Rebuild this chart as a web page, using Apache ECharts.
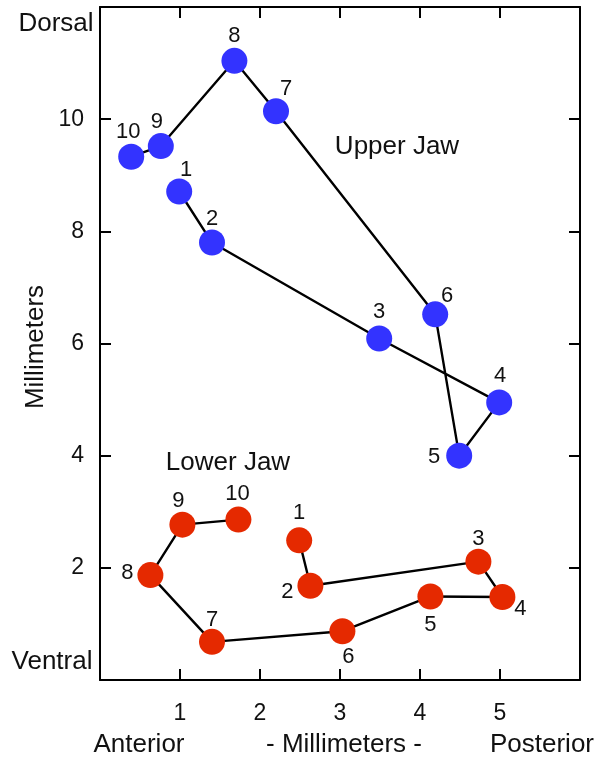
<!DOCTYPE html>
<html>
<head>
    <meta charset="utf-8">
    <title>Jaw movement</title>
    <script src="https://cdn.jsdelivr.net/npm/echarts@6/dist/echarts.min.js"></script>
</head>
<body style="margin:0">
<div id="main" style="width: 602px;height:765px;"></div>
<script type="text/javascript">
    // point numbers, in drawing order
    var pointNames = ['1', '2', '3', '4', '5', '6', '7', '8', '9', '10'];

    // upper jaw (mm)
    var upperX = [0.99, 1.40, 3.49, 4.99, 4.49, 4.19, 2.20, 1.68, 0.76, 0.39];
    var upperY = [8.71, 7.80, 6.09, 4.95, 4.00, 6.52, 10.14, 11.04, 9.52, 9.33];

    // lower jaw (mm)
    var lowerX = [2.49, 2.63, 4.73, 5.03, 4.13, 3.03, 1.40, 0.63, 1.03, 1.73];
    var lowerY = [2.49, 1.68, 2.11, 1.48, 1.49, 0.87, 0.68, 1.87, 2.77, 2.86];

    var xTicks = ['1', '2', '3', '4', '5'];
    var yTicks = ['2', '4', '6', '8', '10'];

    // label offsets (px) for the number next to each point
    var upperLabelOff = [[7, -22], [0, -24], [0, -27], [1, -26], [-25, 1], [12, -18], [10, -22], [0, -25], [-4, -24], [-3, -25]];
    var lowerLabelOff = [[0, -27], [-23, 6], [0, -23], [18, 12], [0, 29], [6, 26], [0, -22], [-23, -2], [-4, -24], [-1, -26]];

    var FONT = '"Liberation Sans", Arial, Helvetica, sans-serif';

    function buildData(xs, ys, offs) {
        return xs.map(function (x, i) {
            return {
                name: pointNames[i],
                value: [x, ys[i]],
                label: { offset: offs[i] }
            };
        });
    }

    function makeSeries(name, color, xs, ys, offs) {
        return {
            name: name,
            type: 'line',
            data: buildData(xs, ys, offs),
            symbol: 'circle',
            symbolSize: 26,
            z: 3,
            animation: false,
            lineStyle: { color: '#000', width: 2.4 },
            itemStyle: { color: color, borderWidth: 0 },
            label: {
                show: true,
                position: 'inside',
                formatter: '{b}',
                color: '#111',
                fontSize: 22,
                fontFamily: FONT
            }
        };
    }

    var axisLine = { show: true, onZero: false, lineStyle: { color: '#000', width: 2 } };
    var axisTick = { show: true, inside: true, length: 11, lineStyle: { color: '#000', width: 2 } };

    function txt(s, x, y, extra) {
        var o = { type: 'text', x: x, y: y, style: { text: s, font: '26px ' + FONT, fill: '#111', align: 'center', verticalAlign: 'middle' } };
        if (extra) { for (var k in extra) { o[k] = extra[k]; } }
        return o;
    }

    var myChart = echarts.init(document.getElementById('main'));

    myChart.setOption({
        backgroundColor: '#fff',
        animation: false,
        grid: { left: 100, right: 22, top: 7, bottom: 85 },
        xAxis: [
            {
                type: 'value', position: 'bottom', min: 0, max: 6, interval: 1,
                axisLine: axisLine, axisTick: axisTick, splitLine: { show: false },
                axisLabel: {
                    margin: 22, color: '#111', fontSize: 23, fontFamily: FONT,
                    formatter: function (v) { return xTicks.indexOf(String(v)) >= 0 ? String(v) : ''; }
                }
            },
            {
                type: 'value', position: 'top', min: 0, max: 6, interval: 1,
                axisLine: axisLine, axisTick: axisTick, splitLine: { show: false },
                axisLabel: { show: false }
            }
        ],
        yAxis: [
            {
                type: 'value', position: 'left', min: 0, max: 12, interval: 2,
                axisLine: axisLine, axisTick: axisTick, splitLine: { show: false },
                axisLabel: {
                    margin: 16, color: '#111', fontSize: 23, fontFamily: FONT,
                    formatter: function (v) { return yTicks.indexOf(String(v)) >= 0 ? String(v) : ''; }
                }
            },
            {
                type: 'value', position: 'right', min: 0, max: 12, interval: 2,
                axisLine: axisLine, axisTick: axisTick, splitLine: { show: false },
                axisLabel: { show: false }
            }
        ],
        graphic: [
            txt('Dorsal', 56, 24),
            txt('Ventral', 52, 662),
            txt('Anterior', 139, 745),
            txt('- Millimeters -', 344, 745),
            txt('Posterior', 542, 745),
            txt('Millimeters', 36, 347, { rotation: Math.PI / 2 }),
            txt('Upper Jaw', 397, 147),
            txt('Lower Jaw', 228, 463)
        ],
        series: [
            makeSeries('Upper Jaw', '#3333ff', upperX, upperY, upperLabelOff),
            makeSeries('Lower Jaw', '#e52900', lowerX, lowerY, lowerLabelOff)
        ]
    });
</script>
</body>
</html>
